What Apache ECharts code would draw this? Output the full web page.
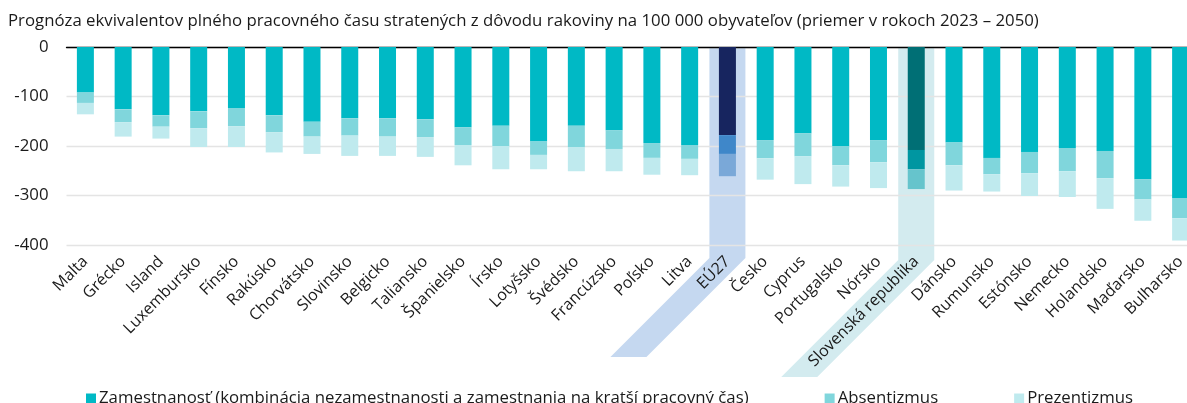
<!DOCTYPE html>
<html>
<head>
<meta charset="utf-8">
<script src="https://cdn.jsdelivr.net/npm/echarts@6/dist/echarts.min.js"></script>
<style>
  html, body { margin: 0; padding: 0; background: #fff; }
  #chart { width: 1187px; height: 403px; }
</style>
</head>
<body>
<div id="chart"></div>
<script>
  var categories = ["Malta", "Grécko", "Island", "Luxembursko", "Fínsko", "Rakúsko", "Chorvátsko",
    "Slovinsko", "Belgicko", "Taliansko", "Španielsko", "Írsko", "Lotyšsko", "Švédsko", "Francúzsko",
    "Poľsko", "Litva", "EÚ27", "Česko", "Cyprus", "Portugalsko", "Nórsko", "Slovenská republika",
    "Dánsko", "Rumunsko", "Estónsko", "Nemecko", "Holandsko", "Maďarsko", "Bulharsko"];

  var zamestnanost = [-92, -126, -138, -130, -124, -138, -151, -144, -144, -146, -162, -159, -191, -159,
    -168, -194, -198, -178, -188, -174, -200, -188, -208, -193, -224, -212, -204, -210, -267, -305];
  var absentizmus = [-21, -26, -23, -34, -36, -34, -30, -35, -37, -36, -36, -41, -27, -43,
    -38, -30, -28, -38, -37, -47, -39, -45, -39, -46, -33, -43, -47, -55, -41, -41];
  var prezentizmus = [-23, -29, -24, -38, -42, -41, -35, -41, -39, -40, -41, -47, -29, -49,
    -45, -34, -33, -45, -43, -56, -43, -52, -40, -51, -35, -46, -52, -62, -43, -45];

  var yTicks = [0, -100, -200, -300, -400];

  var seriesNames = ["Zamestnanosť (kombinácia nezamestnanosti a zamestnania na kratší pracovný čas)",
    "Absentizmus", "Prezentizmus"];
  var baseColors = ["#00b9c5", "#80d6dc", "#bfeaee"];
  var euColors = ["#17255f", "#3f87c9", "#7aa8d8"];
  var skColors = ["#006f75", "#0096a1", "#66c4cc"];

  var EU = categories.indexOf("EÚ27");
  var SK = categories.indexOf("Slovenská republika");

  function seriesData(values, k) {
    return values.map(function (v, i) {
      if (i === EU) return { value: v, itemStyle: { color: euColors[k] } };
      if (i === SK) return { value: v, itemStyle: { color: skColors[k] } };
      return v;
    });
  }

  var font = "'Open Sans', 'Noto Sans', sans-serif";
  var chart = echarts.init(document.getElementById("chart"), null, { renderer: "canvas" });

  var series = [zamestnanost, absentizmus, prezentizmus].map(function (vals, k) {
    return {
      name: seriesNames[k],
      type: "bar",
      stack: "spolu",
      barWidth: 17,
      data: seriesData(vals, k),
      itemStyle: { color: baseColors[k] },
      emphasis: { disabled: true },
      animation: false
    };
  });

  chart.setOption({
    animation: false,
    textStyle: { fontFamily: font },
    title: {
      text: "Prognóza ekvivalentov plného pracovného času stratených z dôvodu rakoviny na 100 000 obyvateľov (priemer v rokoch 2023 – 2050)",
      left: 3, top: 8,
      textStyle: { fontFamily: font, fontSize: 16.8, fontWeight: "normal", color: "#1a1a1a" }
    },
    legend: {
      data: seriesNames,
      left: 81, top: 385,
      icon: "rect", itemWidth: 10, itemHeight: 10, itemGap: 76,
      textStyle: { fontFamily: font, fontSize: 16.8, color: "#1a1a1a", padding: [0, 0, 0, -2] },
      selectedMode: false
    },
    grid: { left: 66.5, top: 47, width: 1133, height: 198, outerBoundsMode: "none", containLabel: false },
    xAxis: [{
      type: "category",
      data: categories,
      position: "bottom",
      axisLine: { show: false },
      axisTick: { show: false },
      axisLabel: { rotate: 45, interval: 0, margin: 14, fontSize: 16, color: "#1a1a1a", fontFamily: font }
    }, {
      type: "category",
      data: categories,
      position: "top",
      axisLine: { show: true, lineStyle: { color: "#000", width: 1.3 } },
      axisTick: { show: false },
      axisLabel: { show: false }
    }],
    yAxis: {
      type: "value",
      min: -400, max: 0, interval: 100,
      axisLine: { show: false },
      axisTick: { show: false },
      axisLabel: {
        margin: 18, fontSize: 16.8, color: "#1a1a1a", fontFamily: font,
        formatter: function (v) { return yTicks.indexOf(v) >= 0 ? String(v) : ""; }
      },
      splitLine: { lineStyle: { color: "#e4e4e4", width: 1.3 } }
    },
    series: series
  });

  // highlight bands for EÚ27 and Slovensko: vertical strip, then slanted strip along the label
  function band(idx, kneeY, slant, fill) {
    var cx = chart.convertToPixel({ xAxisIndex: 0 }, idx);
    var top = chart.convertToPixel({ yAxisIndex: 0 }, 0);
    var h = 18;
    return {
      type: "polygon",
      z: -1,
      silent: true,
      shape: {
        points: [
          [cx - h, top], [cx + h, top], [cx + h, kneeY],
          [cx + h - slant, kneeY + slant], [cx - h - slant, kneeY + slant], [cx - h, kneeY]
        ]
      },
      style: { fill: fill }
    };
  }

  chart.setOption({
    graphic: [
      band(EU, 258, 99, "rgba(110,158,218,0.4)"),
      band(SK, 260, 117, "rgba(108,188,202,0.3)")
    ]
  });
</script>
</body>
</html>
